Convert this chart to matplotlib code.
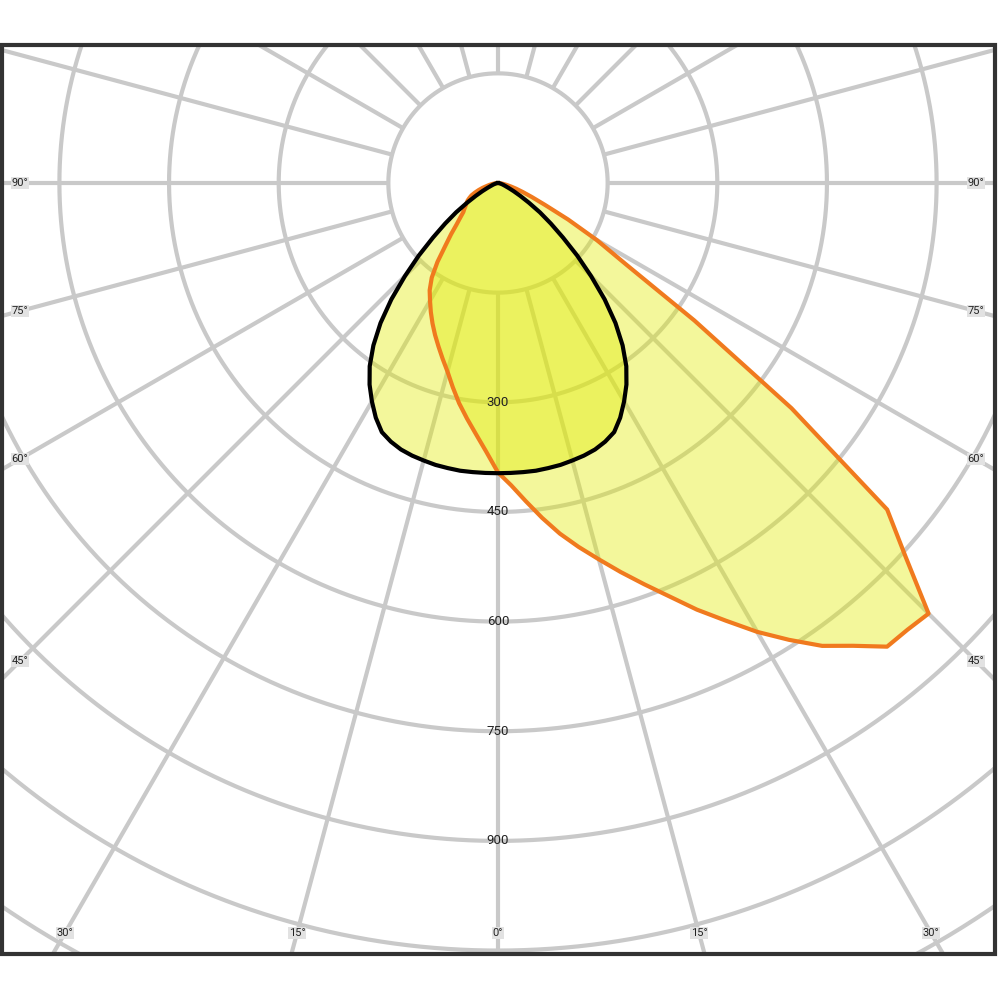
import numpy as np
import matplotlib
matplotlib.use("Agg")
import matplotlib.pyplot as plt
from matplotlib.patches import Rectangle

# ---------------- data ----------------
angles_deg = list(np.arange(-90, 90.01, 2.5))  # gamma angles, 0 = straight down
# C0-C180 plane (black, symmetric) : values for 0 .. 90 deg
black_half = [397, 397, 397, 397, 396, 395, 393, 391, 388, 383, 376, 362, 345, 327,
              306, 280, 250, 216, 180, 147, 116, 91, 70, 50, 35, 24, 16, 11, 8, 6,
              4, 3, 2, 1.5, 1, 0.5, 0]
black_cd = black_half[::-1] + black_half[1:]
# C90-C270 plane (orange, asymmetric) : -90 .. 90 deg
orange_cd = [0, 1, 3, 5, 8, 12, 16, 22, 28, 34, 40, 44, 48, 51, 54, 58, 62, 70, 80,
             95, 112, 136, 158, 174, 186, 199, 212, 225, 238, 252, 267, 286, 306, 325,
             345, 368,
             396,
             414, 437, 462, 487, 510, 533, 558, 584, 612, 644, 675, 709, 741, 773, 798,
             828, 829, 833, 756, 695, 506, 328, 209, 156, 108, 71, 50, 36, 26, 18, 12,
             8, 5, 3, 1, 0]
ring_values = [150, 300, 450, 600, 750, 900, 1050, 1200, 1350]
ring_labels = [300, 450, 600, 750, 900]
spoke_angles = list(range(0, 360, 15))
bottom_label_angles = [-30, -15, 0, 15, 30]
side_label_angles = [45, 60, 75, 90]

# ---------------- style / layout ----------------
W = H = 1000
cx, cy = 498, 183          # pole position in pixels (from top-left)
px_per_cd = 0.731
rmax = 1400
grid_color = "#c9c9c9"
fill_color = "#e1eb05"
orange = "#f07a1e"

fig = plt.figure(figsize=(10, 10), dpi=100)
fig.patch.set_facecolor("white")

half = rmax * px_per_cd / W
ax = fig.add_axes([cx / W - half, 1 - cy / H - half, 2 * half, 2 * half], projection="polar")
ax.set_theta_zero_location("S")
ax.set_theta_direction(1)
ax.set_ylim(0, rmax)
ax.set_xticks([])
ax.set_yticks([])
ax.grid(False)
ax.spines["polar"].set_visible(False)
ax.patch.set_visible(False)

# clip region = inside of the frame
fx0, fy0, fx1, fy1 = 2, 45, 995, 954
clip_rect = Rectangle((fx0 / W, 1 - fy1 / H), (fx1 - fx0) / W, (fy1 - fy0) / H,
                      transform=fig.transFigure, facecolor="none", edgecolor="none")

grid_lw = 3.0
arts = []
tdense = np.linspace(0, 2 * np.pi, 1441)
for r in ring_values:
    ln, = ax.plot(tdense, np.full_like(tdense, r), color=grid_color, lw=grid_lw, zorder=1,
                  solid_capstyle="butt")
    arts.append(ln)
sp = ax.vlines(np.deg2rad(spoke_angles), ring_values[0], rmax, colors=grid_color,
               lw=grid_lw, zorder=1)
arts.append(sp)

th = np.deg2rad(angles_deg)
f1 = ax.fill(th, black_cd, color=fill_color, alpha=0.4, lw=0, zorder=2)
f2 = ax.fill(th, orange_cd, color=fill_color, alpha=0.4, lw=0, zorder=2)
arts += f1 + f2
l2, = ax.plot(th, orange_cd, color=orange, lw=3.0, zorder=3, solid_joinstyle="round")
l1, = ax.plot(th, black_cd, color="black", lw=3.0, zorder=4, solid_joinstyle="round")
arts += [l1, l2]
for a in arts:
    a.set_clip_path(clip_rect)

# radial value labels on the 0 deg axis
for v in ring_labels:
    ax.text(0, v, str(v), ha="center", va="center", fontsize=9.5, color="#222222",
            family=["Roboto", "DejaVu Sans"], zorder=6)

# angle labels at the frame
lab_font = ["Liberation Sans Narrow", "Roboto", "DejaVu Sans"]
def put_label(px, py, txt):
    fig.text(px / W, 1 - py / H, txt, ha="center", va="center", fontsize=8,
             color="#222222", family=lab_font,
             bbox=dict(facecolor="#e2e2e2", edgecolor="none", pad=0.5))

for a in bottom_label_angles:
    dy = 750
    dx = dy * np.tan(np.deg2rad(abs(a))) * np.sign(a)
    put_label(cx + dx, cy + dy, f"{abs(a)}°")
for a in side_label_angles:
    for s in (-1, 1):
        dx = 478 * s
        dy = 478 / np.tan(np.deg2rad(a)) if a != 90 else 0
        put_label(cx + dx, cy + dy, f"{a}°")

# frame
frame = Rectangle((fx0 / W, 1 - fy1 / H), (fx1 - fx0) / W, (fy1 - fy0) / H,
                  transform=fig.transFigure, facecolor="none", edgecolor="#333333",
                  lw=3.0, zorder=10)
fig.add_artist(frame)

fig.savefig("out.png", dpi=100, facecolor="white")
